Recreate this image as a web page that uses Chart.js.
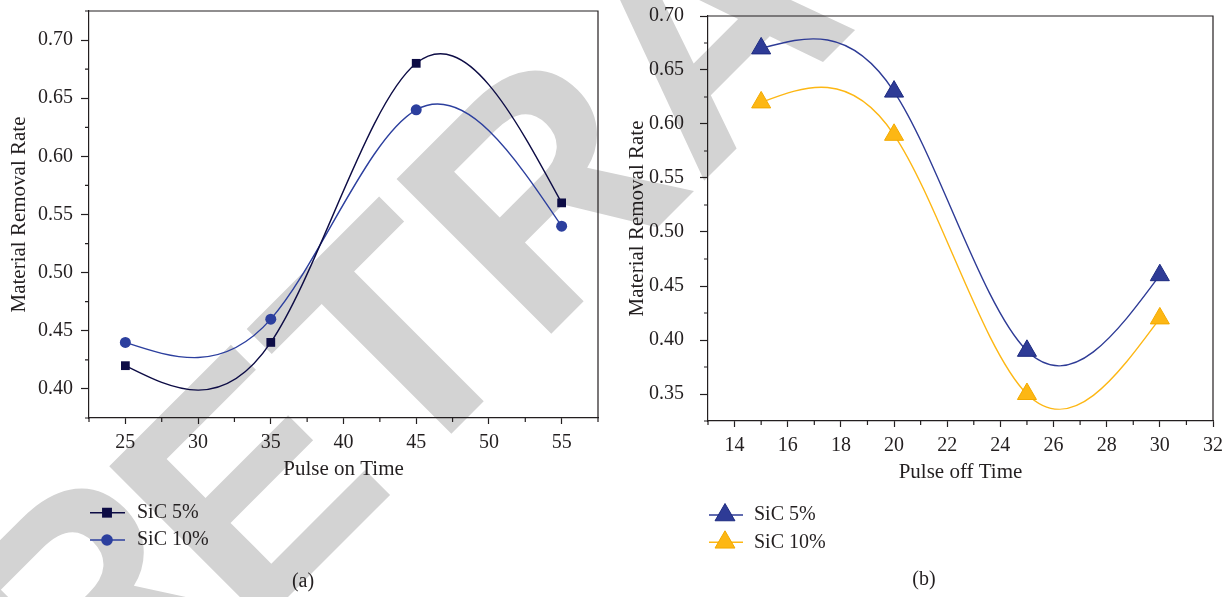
<!DOCTYPE html>
<html>
<head>
<meta charset="utf-8">
<title>Material Removal Rate vs Pulse Time</title>
<script src="https://cdn.jsdelivr.net/npm/chart.js@4.4.1/dist/chart.umd.min.js"></script>
<style>
  html, body { margin: 0; padding: 0; background: #fff; overflow: hidden; }
  #stage { position: relative; width: 1230px; height: 597px; }
  #stage svg, #stage canvas { position: absolute; top: 0; }
  #watermark { left: 0; }
  #chart-on { left: 0; }
  #chart-off { left: 615px; }
</style>
</head>
<body>
<div id="stage">
  <svg id="watermark" width="1230" height="597">
    <text x="106.5" y="798.5" dx="0 -20" dy="-25 25" transform="rotate(-45 86.5 798.5)"
          font-family="Liberation Sans, Arial, sans-serif"
          font-weight="bold" font-size="318" fill="#d3d3d3">RETRACTED</text>
  </svg>
  <canvas id="chart-on" width="615" height="597"></canvas>
  <canvas id="chart-off" width="615" height="597"></canvas>
</div>
<script>
// ── Data ──────────────────────────────────────────────────────────────────────
const pulseOn  = [25, 35, 45, 55];
const mrrOn5   = [0.42, 0.44, 0.68, 0.56];
const mrrOn10  = [0.44, 0.46, 0.64, 0.54];

const pulseOff = [15, 20, 25, 30];
const mrrOff5  = [0.67, 0.63, 0.39, 0.46];
const mrrOff10 = [0.62, 0.59, 0.35, 0.42];

const seriesNames = ['SiC 5%', 'SiC 10%'];

const onTicks     = [25, 30, 35, 40, 45, 50, 55];
const offTicks    = [14, 16, 18, 20, 22, 24, 26, 28, 30, 32];
const mrrTicksOn  = [0.40, 0.45, 0.50, 0.55, 0.60, 0.65, 0.70];
const mrrTicksOff = [0.35, 0.40, 0.45, 0.50, 0.55, 0.60, 0.65, 0.70];

// ── Look ──────────────────────────────────────────────────────────────────────
const INK = '#231f20';
const SERIF = "'Liberation Serif', 'Times New Roman', serif";
const NAVY = '#0d0c45';
const BLUE = '#2c3f9e';
const BLUE_B = '#2e3b96';
const GOLD = '#fdb714';

Chart.defaults.font.family = SERIF;
Chart.defaults.font.size = 20;
Chart.defaults.color = INK;

function xyPoints(xs, ys) {
  return xs.map((x, i) => ({ x, y: ys[i] }));
}

// ── Natural cubic spline: replace Chart.js control points ─────────────────────
function splineSecondDerivs(xs, ys) {
  const n = xs.length;
  const m = new Array(n).fill(0);
  const h = [];
  for (let i = 0; i < n - 1; i++) h.push(xs[i + 1] - xs[i]);
  const a = [], b = [], c = [], d = [];
  for (let i = 1; i < n - 1; i++) {
    a.push(h[i - 1]);
    b.push(2 * (h[i - 1] + h[i]));
    c.push(h[i]);
    d.push(6 * ((ys[i + 1] - ys[i]) / h[i] - (ys[i] - ys[i - 1]) / h[i - 1]));
  }
  const k = b.length;
  for (let i = 1; i < k; i++) {
    const w = a[i] / b[i - 1];
    b[i] -= w * c[i - 1];
    d[i] -= w * d[i - 1];
  }
  for (let i = k - 1; i >= 0; i--) {
    m[i + 1] = (d[i] - (i < k - 1 ? c[i] * m[i + 2] : 0)) / b[i];
  }
  return m;
}

const naturalSpline = {
  id: 'naturalSpline',
  beforeDatasetDraw(chart, args) {
    const meta = args.meta;
    meta.dataset.updateControlPoints(chart.chartArea, meta.iScale.axis);
    const pts = meta.data;
    const xs = pts.map(p => p.x);
    const ys = pts.map(p => p.y);
    const m = splineSecondDerivs(xs, ys);
    for (let i = 0; i < pts.length - 1; i++) {
      const h = xs[i + 1] - xs[i];
      const s = (ys[i + 1] - ys[i]) / h;
      const d0 = s - h * (2 * m[i] + m[i + 1]) / 6;
      const d1 = s + h * (m[i] + 2 * m[i + 1]) / 6;
      pts[i].cp2x = xs[i] + h / 3;
      pts[i].cp2y = ys[i] + d0 * h / 3;
      pts[i + 1].cp1x = xs[i + 1] - h / 3;
      pts[i + 1].cp1y = ys[i + 1] - d1 * h / 3;
    }
  }
};

// ── Frame, minor ticks, legend and caption ────────────────────────────────────
function minorValues(scale, step) {
  const majors = scale.ticks.map(t => t.value);
  const out = [];
  for (let k = 0; scale.min + k * step <= scale.max + step / 10; k++) {
    const v = scale.min + k * step;
    if (!majors.some(mv => Math.abs(mv - v) < step / 10)) out.push(v);
  }
  return out;
}

const panelExtras = {
  id: 'panelExtras',
  afterDraw(chart, args, o) {
    const { ctx, chartArea: a } = chart;
    const x = chart.scales.x, y = chart.scales.y;
    ctx.save();
    ctx.strokeStyle = INK;
    ctx.lineWidth = 1.2;

    ctx.beginPath();
    ctx.moveTo(a.left, a.top);
    ctx.lineTo(a.right, a.top);
    ctx.lineTo(a.right, a.bottom);
    ctx.stroke();

    ctx.beginPath();
    minorValues(x, o.minorX).forEach(v => {
      const px = x.getPixelForValue(v);
      ctx.moveTo(px, a.bottom);
      ctx.lineTo(px, a.bottom + 4);
    });
    minorValues(y, o.minorY).forEach(v => {
      const py = y.getPixelForValue(v);
      ctx.moveTo(a.left - 4, py);
      ctx.lineTo(a.left, py);
    });
    ctx.stroke();

    const lg = o.legend;
    ctx.font = `20px ${SERIF}`;
    ctx.textBaseline = 'middle';
    chart.data.datasets.forEach((ds, i) => {
      const ry = lg.rows[i];
      ctx.strokeStyle = ds.borderColor;
      ctx.lineWidth = ds.borderWidth;
      ctx.beginPath();
      ctx.moveTo(lg.x1, ry);
      ctx.lineTo(lg.x2, ry);
      ctx.stroke();
      ctx.fillStyle = ds.pointBackgroundColor;
      ctx.strokeStyle = ds.pointBorderColor;
      ctx.lineWidth = ds.pointBorderWidth;
      Chart.helpers.drawPoint(ctx, {
        pointStyle: ds.pointStyle, radius: lg.radius[i], rotation: 0, borderWidth: ds.pointBorderWidth
      }, lg.mx, ry);
      ctx.fillStyle = INK;
      ctx.textAlign = 'left';
      ctx.fillText(ds.label, lg.tx, ry);
    });

    ctx.textAlign = 'center';
    ctx.fillText(o.caption.text, o.caption.x, o.caption.y);
    ctx.restore();
  }
};

// ── Axes ──────────────────────────────────────────────────────────────────────
function buildScales(p) {
  return {
    x: {
      type: 'linear',
      min: p.xMin,
      max: p.xMax,
      afterBuildTicks: s => { s.ticks = p.xTicks.map(v => ({ value: v })); },
      afterFit: s => { s.height = 64; s.paddingLeft = 0; s.paddingRight = 0; },
      ticks: { padding: 7, autoSkip: false, maxRotation: 0, callback: v => String(v) },
      grid: { drawOnChartArea: false, tickLength: 6, tickColor: INK, tickWidth: 1.2 },
      border: { color: INK, width: 1.2 },
      title: { display: true, text: p.xTitle, font: { size: 21 }, padding: 0 },
    },
    y: {
      type: 'linear',
      min: p.yMin,
      max: p.yMax,
      afterBuildTicks: s => { s.ticks = p.yTicks.map(v => ({ value: v })); },
      afterFit: s => { s.width = p.yWidth; s.paddingTop = 0; s.paddingBottom = 0; },
      ticks: { padding: p.yPad, autoSkip: false, callback: v => v.toFixed(2) },
      grid: { drawOnChartArea: false, tickLength: 8, tickColor: INK, tickWidth: 1.2 },
      border: { color: INK, width: 1.2 },
      title: {
        display: true, text: 'Material Removal Rate', font: { size: 21 },
        padding: { top: p.yTitlePad, bottom: 0 }
      },
    },
  };
}

function series(label, data, color, style, radius, border, borderWidth) {
  return {
    label, data,
    borderColor: color,
    backgroundColor: color,
    borderWidth: 1.4,
    tension: 0.4,
    pointStyle: style,
    pointRadius: radius,
    pointBackgroundColor: color,
    pointBorderColor: border,
    pointBorderWidth: borderWidth,
  };
}

// ── (a) Pulse on Time ─────────────────────────────────────────────────────────
new Chart(document.getElementById('chart-on'), {
  type: 'line',
  data: {
    datasets: [
      series(seriesNames[0], xyPoints(pulseOn, mrrOn5), NAVY, 'rect', 6.2, NAVY, 0),
      series(seriesNames[1], xyPoints(pulseOn, mrrOn10), BLUE, 'circle', 5.5, BLUE, 0),
    ]
  },
  options: {
    responsive: false,
    animation: false,
    events: [],
    layout: { padding: { left: 0, top: 11, right: 17, bottom: 115 } },
    plugins: {
      legend: { display: false },
      tooltip: { enabled: false },
      panelExtras: {
        minorX: 2.5, minorY: 0.025,
        legend: { x1: 90, x2: 125, mx: 107, tx: 137, rows: [512.7, 540], radius: [7, 5.8] },
        caption: { text: '(a)', x: 303, y: 582 },
      },
    },
    scales: buildScales({
      xMin: 22.5, xMax: 57.5, xTicks: onTicks, xTitle: 'Pulse on Time',
      yMin: 0.375, yMax: 0.725, yTicks: mrrTicksOn, yWidth: 89, yPad: 8, yTitlePad: 6.4,
    }),
  },
  plugins: [naturalSpline, panelExtras],
});

// ── (b) Pulse off Time ────────────────────────────────────────────────────────
new Chart(document.getElementById('chart-off'), {
  type: 'line',
  data: {
    datasets: [
      series(seriesNames[0], xyPoints(pulseOff, mrrOff5), BLUE_B, 'triangle', 11, '#1d2a80', 1),
      series(seriesNames[1], xyPoints(pulseOff, mrrOff10), GOLD, 'triangle', 11, '#f2a900', 1),
    ]
  },
  options: {
    responsive: false,
    animation: false,
    events: [],
    layout: { padding: { left: 0, top: 16, right: 17, bottom: 112 } },
    plugins: {
      legend: { display: false },
      tooltip: { enabled: false },
      panelExtras: {
        minorX: 1, minorY: 0.025,
        legend: { x1: 94, x2: 128, mx: 110, tx: 139, rows: [515, 542.3], radius: [11.5, 11.5] },
        caption: { text: '(b)', x: 309, y: 580 },
      },
    },
    scales: buildScales({
      xMin: 13, xMax: 32, xTicks: offTicks, xTitle: 'Pulse off Time',
      yMin: 0.325, yMax: 0.70, yTicks: mrrTicksOff, yWidth: 93, yPad: 16, yTitlePad: 9.4,
    }),
  },
  plugins: [naturalSpline, panelExtras],
});
</script>
</body>
</html>
